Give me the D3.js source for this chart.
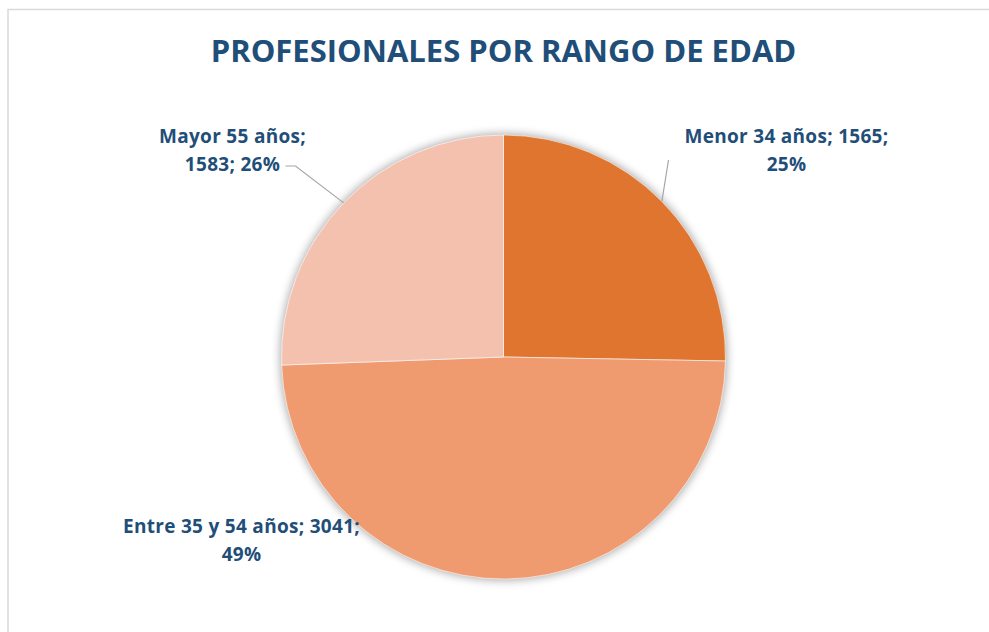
<!DOCTYPE html>
<html>
<head>
<meta charset="utf-8">
<script src="https://cdn.jsdelivr.net/npm/d3@7"></script>
<style>
  body { margin: 0; background: #fff; }
  text { font-family: "Open Sans", Lato, sans-serif; font-weight: bold; }
</style>
</head>
<body>
<div id="chart"></div>
<script>
// data
const categories = ['Menor 34 años', 'Entre 35 y 54 años', 'Mayor 55 años'];
const values = [1565, 3041, 1583];
const colors = ['#DF752E', '#F09A6F', '#F4C1AF'];
const title = 'PROFESIONALES POR RANGO DE EDAD';

const width = 989, height = 632;
const cx = 503.5, cy = 357, radius = 222;

const svg = d3.select('#chart').append('svg')
  .attr('width', width)
  .attr('height', height);

// chart frame
svg.append('rect')
  .attr('x', 8).attr('y', 9.5)
  .attr('width', 990).attr('height', 640)
  .attr('fill', '#fff')
  .attr('stroke', '#d9d9d9')
  .attr('stroke-width', 1.5);

svg.append('text')
  .attr('x', cx).attr('y', 62)
  .attr('text-anchor', 'middle')
  .attr('fill', '#1F4E79')
  .style('font-size', '31px')
  .text(title);

const defs = svg.append('defs');
defs.append('filter').attr('id', 'soft')
  .attr('x', '-20%').attr('y', '-20%').attr('width', '140%').attr('height', '140%')
  .append('feGaussianBlur').attr('stdDeviation', 5);

const total = d3.sum(values);
const data = categories.map((c, i) => ({ name: c, value: values[i], color: colors[i] }));

const pie = d3.pie().sort(null).value(d => d.value);
const arcs = pie(data);
const arc = d3.arc().innerRadius(0).outerRadius(radius);

const g = svg.append('g').attr('transform', `translate(${cx},${cy})`);

// soft shadow behind the pie
g.append('circle')
  .attr('r', radius + 1)
  .attr('fill', '#000')
  .attr('opacity', 0.35)
  .attr('filter', 'url(#soft)');

g.selectAll('path.slice')
  .data(arcs)
  .enter()
  .append('path')
  .attr('class', 'slice')
  .attr('d', arc)
  .attr('fill', d => d.data.color)
  .attr('stroke', '#fff')
  .attr('stroke-width', 0.6);

// label layout (relative to pie centre)
const labelPos = [
  { x: 283, y: -214, anchor: [165, -197], leader: true },
  { x: -262, y: 176, leader: false },
  { x: -271, y: -214, anchor: [-218, -193], leader: true }
];

function pct(v) { return Math.round(v / total * 100) + '%'; }

const lines = [
  d => [d.name + '; ' + d.value + ';', pct(d.value)],
  d => [d.name + '; ' + d.value + ';', pct(d.value)],
  d => [d.name + ';', d.value + '; ' + pct(d.value)]
];

arcs.forEach((a, i) => {
  const p = labelPos[i];
  const mid = (a.startAngle + a.endAngle) / 2;
  const ex = Math.sin(mid) * radius, ey = -Math.cos(mid) * radius;
  if (p.leader) {
    const pts = i === 2
      ? [[p.anchor[0], p.anchor[1] + 2], [p.anchor[0] + 10, p.anchor[1] + 2], [ex, ey]]
      : [[p.anchor[0], p.anchor[1]], [ex, ey]];
    g.append('path')
      .attr('d', d3.line()(pts))
      .attr('fill', 'none')
      .attr('stroke', '#A6A6A6')
      .attr('stroke-width', 1.2);
  }
  const t = g.append('text')
    .attr('text-anchor', 'middle')
    .attr('fill', '#1F4E79')
    .style('font-size', '19px')
    .style('letter-spacing', '0.3px');
  lines[i](a.data).forEach((s, k) => {
    t.append('tspan')
      .attr('x', p.x)
      .attr('y', p.y + k * 28)
      .text(s);
  });
});
</script>
</body>
</html>
